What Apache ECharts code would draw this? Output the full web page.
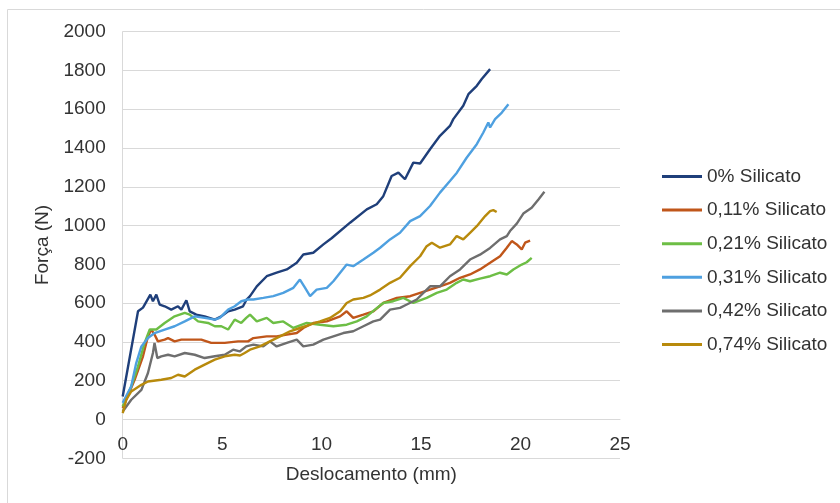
<!DOCTYPE html>
<html>
<head>
<meta charset="utf-8">
<script src="https://cdn.jsdelivr.net/npm/echarts@6/dist/echarts.min.js"></script>
<style>
  html, body { margin: 0; padding: 0; background: #fff; }
  #chart { width: 840px; height: 503px; }
</style>
</head>
<body>
<div id="chart"></div>
<script>
// series names
var names = ['0% Silicato', '0,11% Silicato', '0,21% Silicato', '0,31% Silicato', '0,42% Silicato', '0,74% Silicato'];

// [deslocamento (mm), força (N)]
var s0 = [[0,119],[0.77,558],[1.02,577],[1.39,644],[1.52,610],[1.69,644],[1.86,593],[2.11,584],[2.44,567],[2.78,584],[2.95,567],[3.2,615],[3.37,558],[3.7,541],[4.12,532],[4.63,515],[4.96,532],[5.3,558],[5.63,567],[6.05,584],[6.23,619],[6.4,636],[6.74,687],[7.24,739],[7.74,757],[8.25,774],[8.75,808],[9.08,851],[9.58,860],[10.09,903],[10.5,935],[11.43,1015],[12.27,1084],[12.77,1110],[13.1,1152],[13.52,1256],[13.86,1273],[14.19,1239],[14.61,1325],[14.95,1320],[15.45,1394],[15.95,1463],[16.45,1514],[16.62,1549],[17.12,1618],[17.38,1678],[17.8,1721],[18.05,1756],[18.47,1807]];
var s1 = [[0,59],[0.6,205],[1.02,326],[1.27,429],[1.44,464],[1.6,438],[1.77,403],[2.11,412],[2.28,420],[2.61,403],[2.95,412],[3.37,412],[3.95,412],[4.45,395],[5.13,395],[5.8,403],[6.3,403],[6.57,420],[7.24,429],[7.74,429],[8.25,438],[8.75,446],[9.08,472],[9.58,498],[10.26,506],[10.93,532],[11.26,558],[11.59,524],[12.1,541],[12.6,558],[13.1,601],[13.78,627],[14.45,636],[14.95,653],[15.45,670],[15.95,687],[16.45,705],[16.96,731],[17.46,748],[17.96,774],[18.47,808],[18.97,842],[19.31,886],[19.56,920],[19.81,903],[20.06,877],[20.23,912],[20.48,923]];
var s2 = [[0,67],[0.43,171],[0.77,274],[1.1,395],[1.36,464],[1.69,464],[2.11,498],[2.61,532],[3.12,550],[3.37,541],[3.79,506],[4.29,498],[4.63,481],[4.96,481],[5.3,464],[5.63,515],[5.96,498],[6.21,524],[6.4,541],[6.74,506],[7.24,524],[7.57,498],[8.07,506],[8.58,472],[9.25,498],[9.92,489],[10.59,481],[11.26,489],[11.77,506],[12.27,532],[12.6,560],[13.1,601],[13.6,610],[14.11,627],[14.61,601],[15.28,627],[15.79,653],[16.29,670],[16.79,705],[17.12,722],[17.46,713],[17.96,727],[18.47,739],[18.97,757],[19.31,748],[19.64,774],[20.06,799],[20.31,811],[20.56,834]];
var s3 = [[0,86],[0.43,171],[0.68,291],[0.94,377],[1.27,420],[1.6,446],[2.11,464],[2.61,481],[3.12,506],[3.62,532],[4.12,524],[4.63,515],[4.88,524],[5.3,567],[5.63,584],[5.96,610],[6.3,619],[6.57,619],[7.07,627],[7.57,636],[8.07,653],[8.58,679],[8.91,722],[9.17,679],[9.42,636],[9.75,670],[10.26,679],[10.59,713],[10.93,757],[11.26,799],[11.59,791],[12.1,825],[12.6,860],[12.94,886],[13.44,929],[13.94,963],[14.45,1023],[14.95,1049],[15.45,1101],[15.95,1170],[16.45,1230],[16.8,1273],[17.29,1350],[17.8,1420],[18.13,1480],[18.38,1532],[18.47,1506],[18.72,1549],[19.06,1583],[19.39,1626]];
var s4 = [[0,41],[0.43,102],[0.94,153],[1.27,240],[1.52,343],[1.6,395],[1.74,317],[1.94,326],[2.28,334],[2.61,326],[3.12,343],[3.62,334],[4.12,317],[4.63,326],[5.13,334],[5.55,360],[5.88,351],[6.21,377],[6.57,386],[7.07,377],[7.4,403],[7.74,377],[8.25,395],[8.75,412],[9.08,377],[9.58,386],[10.09,412],[10.59,429],[11.09,446],[11.59,455],[12.1,481],[12.6,506],[12.94,515],[13.44,567],[13.94,576],[14.28,593],[14.78,619],[15.45,687],[15.95,687],[16.45,739],[16.96,774],[17.46,825],[17.96,850],[18.47,885],[18.97,929],[19.31,946],[19.47,972],[19.81,1010],[20.14,1062],[20.56,1092],[20.9,1135],[21.2,1175]];
var s5 = [[0,33],[0.18,102],[0.43,145],[0.94,179],[1.27,196],[1.94,205],[2.44,214],[2.78,231],[3.12,222],[3.62,257],[4.12,283],[4.63,309],[5.13,326],[5.63,334],[5.9,330],[6.13,343],[6.4,360],[6.9,377],[7.4,403],[7.91,429],[8.41,455],[8.91,472],[9.42,489],[9.92,506],[10.42,524],[10.93,558],[11.26,601],[11.59,619],[12.1,627],[12.43,640],[12.94,670],[13.44,705],[13.94,731],[14.45,791],[14.95,842],[15.28,894],[15.54,912],[15.95,886],[16.45,903],[16.79,946],[17.12,929],[17.46,963],[17.8,997],[18.22,1049],[18.47,1075],[18.63,1080],[18.8,1070]];

var colors = ['#1F3F7A', '#C0561A', '#6DBE45', '#4EA0E0', '#6E6E6E', '#B88A0C'];
var allData = [s0, s1, s2, s3, s4, s5];

var myChart = echarts.init(document.getElementById('chart'));

var option = {
    animation: false,
    textStyle: {
        fontFamily: 'Liberation Sans, Arial, sans-serif'
    },
    graphic: [{
        type: 'polyline',
        shape: { points: [[7.5, 503], [7.5, 9.5], [840, 9.5]] },
        style: { stroke: '#d9d9d9', lineWidth: 1, fill: null }
    }],
    grid: {
        left: 122.7,
        right: 220,
        top: 31.7,
        bottom: 44.7,
        containLabel: false,
        outerBoundsMode: 'none'
    },
    legend: {
        orient: 'vertical',
        left: 662,
        top: 167,
        icon: 'rect',
        itemWidth: 40,
        itemHeight: 3,
        itemGap: 14.6,
        padding: 0,
        textStyle: {
            fontSize: 19,
            color: '#333'
        },
        data: names
    },
    xAxis: {
        type: 'value',
        min: 0,
        max: 25,
        interval: 5,
        // axis sits on the 0 N line, 200 N above the bottom
        offset: -38.6,
        name: 'Deslocamento (mm)',
        nameLocation: 'middle',
        nameGap: 46,
        nameTextStyle: { fontSize: 19, color: '#333' },
        axisLine: { onZero: false, lineStyle: { color: '#d9d9d9' } },
        axisTick: { show: false },
        splitLine: { show: false },
        axisLabel: { fontSize: 19, color: '#333', margin: 16 }
    },
    yAxis: {
        type: 'value',
        min: -200,
        max: 2000,
        interval: 200,
        name: 'Força (N)',
        nameLocation: 'middle',
        nameGap: 64,
        nameTextStyle: { fontSize: 19, color: '#333' },
        axisLine: { show: true, lineStyle: { color: '#d9d9d9' } },
        axisTick: { show: false },
        splitLine: { lineStyle: { color: '#d9d9d9' } },
        axisLabel: {
            fontSize: 19,
            color: '#333',
            margin: 17,
            formatter: function (v) { return String(v); }
        }
    },
    series: allData.map(function (d, i) {
        return {
            name: names[i],
            type: 'line',
            data: d,
            symbol: 'none',
            color: colors[i],
            lineStyle: { color: colors[i], width: 2.4 }
        };
    })
};

myChart.setOption(option);
</script>
</body>
</html>
